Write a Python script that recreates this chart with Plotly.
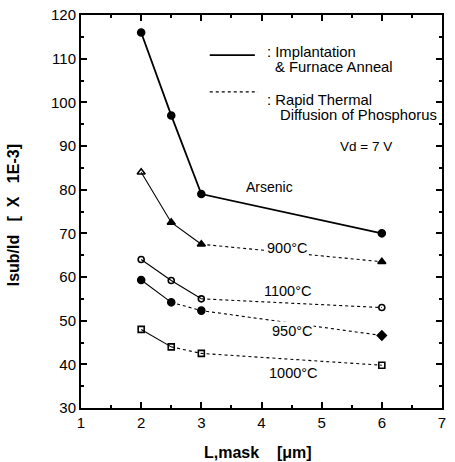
import plotly.graph_objects as go

L_mask = [2, 2.5, 3, 6]
arsenic = [116, 97, 79, 70]
t900 = [84, 72.5, 67.5, 63.5]
t1100 = [64, 59.2, 55, 53]
t950 = [59.3, 54.2, 52.3, 46.6]
t1000 = [48, 44, 42.5, 39.8]

FONT = "Liberation Sans, Arial, sans-serif"
fig = go.Figure()

def add_series(y, symbols, solid_upto, dotted=True, msize=7):
    if dotted:
        fig.add_trace(go.Scatter(x=L_mask[:solid_upto + 1], y=y[:solid_upto + 1], mode="lines",
                                 line=dict(color="black", width=1.1), showlegend=False, hoverinfo="skip"))
        fig.add_trace(go.Scatter(x=L_mask[solid_upto:], y=y[solid_upto:], mode="lines",
                                 line=dict(color="black", width=1.1, dash="dot"), showlegend=False,
                                 hoverinfo="skip"))
    else:
        fig.add_trace(go.Scatter(x=L_mask, y=y, mode="lines",
                                 line=dict(color="black", width=1.8), showlegend=False))
    fig.add_trace(go.Scatter(x=L_mask, y=y, mode="markers",
                             marker=dict(symbol=symbols, size=msize, color="black",
                                         line=dict(color="black", width=1.6)),
                             showlegend=False))

add_series(arsenic, ["circle"] * 4, 0, dotted=False)
add_series(t900, ["triangle-up-open", "triangle-up", "triangle-up", "triangle-up"], 2)
add_series(t1100, ["circle-open"] * 4, 2, msize=6)
add_series(t950, ["circle", "circle", "circle", "diamond"], 1)
add_series(t1000, ["square-open"] * 4, 1, msize=6)

labels = [("Arsenic", 4.14, 80.6), ("900°C", 4.42, 66.7), ("1100°C", 4.44, 56.8),
          ("950°C", 4.5, 47.7), ("1000°C", 4.54, 38.1)]
for txt, x, y in labels:
    fig.add_annotation(x=x, y=y, text=txt, showarrow=False, bgcolor=None if txt == "Arsenic" else "white",
                       font=dict(family=FONT, size=14 if txt == "Arsenic" else 14.5, color="black"),
                       borderpad=1)

# legend
fig.add_shape(type="line", x0=3.14, x1=3.89, y0=110.8, y1=110.8, line=dict(color="black", width=1.8))
fig.add_shape(type="line", x0=3.14, x1=3.94, y0=102.4, y1=102.4,
              line=dict(color="black", width=1.1, dash="dot"))
legend_txt = [(": Implantation", 4.07, 111.6), ("& Furnace Anneal", 4.21, 108.0),
              (": Rapid Thermal", 4.07, 100.6), ("Diffusion of Phosphorus", 4.29, 97.0),
              ("Vd = 7 V", 5.29, 90.0)]
for txt, x, y in legend_txt:
    fig.add_annotation(x=x, y=y, text=txt, showarrow=False, xanchor="left", borderpad=0,
                       font=dict(family=FONT, size=13.5 if txt.startswith("Vd") else 14.8, color="black"))

# axis titles
fig.add_annotation(xref="paper", yref="paper", x=0.49, y=-0.114, xanchor="center", yanchor="middle",
                   text="<b>L,mask    [μm]</b>",
                   showarrow=False, font=dict(family=FONT, size=16, color="black"))
fig.add_annotation(xref="paper", yref="paper", x=-0.186, y=0.49, xanchor="center", yanchor="middle",
                   text="<b>Isub/Id   [  X   1E-3]</b>",
                   showarrow=False, textangle=-90, font=dict(family=FONT, size=16, color="black"))

axis_common = dict(showline=True, linecolor="black", linewidth=2, mirror="ticks", ticks="inside",
                   ticklen=6, tickwidth=1.5, tickcolor="black", showgrid=False, zeroline=False,
                   automargin=False, tickfont=dict(family=FONT, size=15, color="black"))
fig.update_xaxes(range=[1, 7], dtick=1, tick0=1,
                 minor=dict(ticks="inside", dtick=0.5, ticklen=3, tickcolor="black"),
                 **axis_common)
fig.update_yaxes(range=[30, 120], dtick=10, tick0=30,
                 minor=dict(ticks="inside", dtick=5, ticklen=3, tickcolor="black"),
                 **axis_common)
fig.update_layout(width=455, height=462, margin=dict(l=81, r=13, t=15, b=54),
                  plot_bgcolor="white", paper_bgcolor="white", showlegend=False)
fig.write_html("out.html")
